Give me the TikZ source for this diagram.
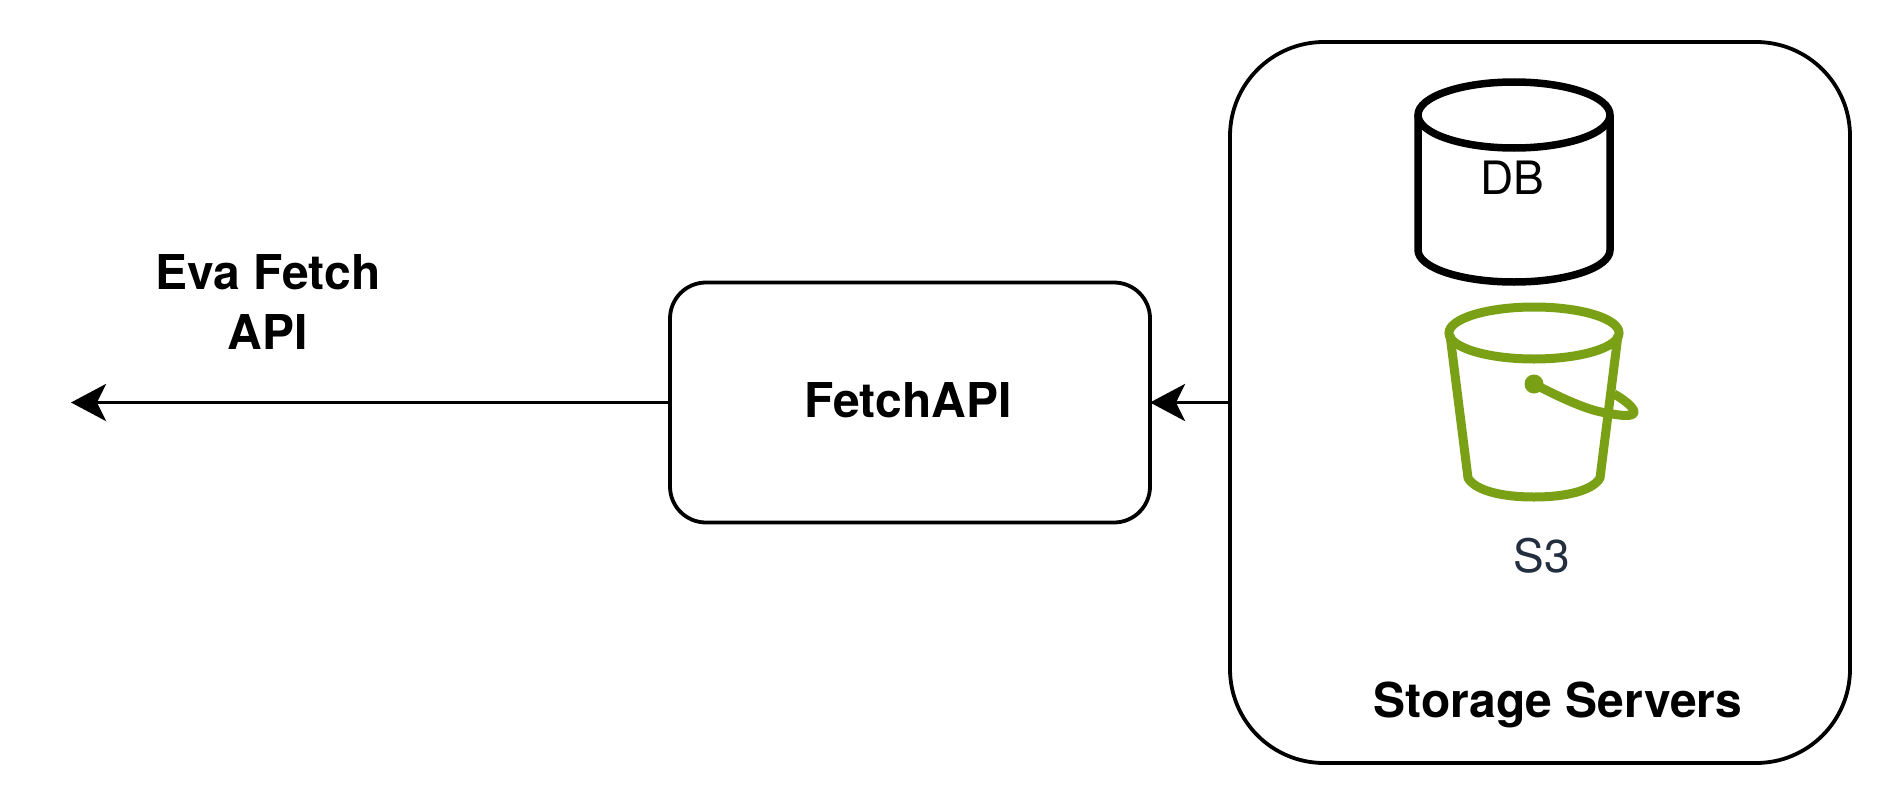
\documentclass[tikz,border=0pt]{standalone}
\usepackage{fontspec}
\setmainfont{TeX Gyre Heros}
\usetikzlibrary{arrows.meta}
\definecolor{bucketcolor}{HTML}{7AA116}
\definecolor{slatecolor}{HTML}{232F3E}
\tikzstyle{roundbox} = [
    draw=black,
    line width=3.8pt,
    rectangle,
    outer sep=0pt
    ]
\tikzstyle{boldlabel} = [
    font=\fontsize{48}{60}\selectfont\bfseries,
    align=center,
    inner sep=0pt
    ]
\tikzstyle{plainlabel} = [
    font=\fontsize{46}{56}\selectfont,
    inner sep=0pt
    ]
\tikzstyle{flow} = [
    line width=3.6pt,
    -{Stealth[length=35pt,width=37pt,inset=9pt]}
    ]
\tikzstyle{dbline} = [draw=black, line width=7.5pt]
\tikzstyle{bucketline} = [draw=bucketcolor, line width=9pt]
\begin{document}
\begin{tikzpicture}[x=1pt,y=-1pt]
\useasboundingbox (0,0) rectangle (1892,808);
\node [roundbox, rounded corners=94pt, minimum width=620pt, minimum height=721pt] (storage) at (1540,402.5) {};
\node [roundbox, rounded corners=36pt, minimum width=480pt, minimum height=240pt] (fetch) at (910,402.5) {};
\node [boldlabel] (fetchlabel) at (908,400) {FetchAPI};
\node [boldlabel] (storagelabel) at (1558,705) {Storage Servers};
\node [boldlabel] (evalabel) at (268,302) {Eva Fetch\\API};
\coordinate (evaout) at (71,402.5);
\draw [flow] (fetch) -- (evaout);
\draw [flow] (storage) -- (fetch);
% database
\draw [dbline] (1418,115) -- (1418,250) arc[start angle=180, end angle=360, x radius=96, y radius=-32] -- (1610,115);
\draw [dbline] (1514,115) ellipse[x radius=96, y radius=33];
\node [plainlabel] (dblabel) at (1512,178) {DB};
% bucket
\draw [bucketline, line join=round] (1450,335) -- (1468,478) .. controls (1475,490) and (1500,497) .. (1534,497) .. controls (1568,497) and (1593,490) .. (1600,478) -- (1618,335);
\draw [bucketline] (1534,333) ellipse[x radius=85, y radius=26];
\draw [bucketline, line join=round] (1534,384) .. controls (1565,400) and (1590,411) .. (1607,413) .. controls (1622,416) and (1634,417) .. (1634,412) .. controls (1634,408) and (1625,400) .. (1614,394);
\fill [bucketcolor] (1534,384) circle (9.5);
\node [plainlabel, text=slatecolor] (s3label) at (1542,556) {S3};
\end{tikzpicture}
\end{document}
